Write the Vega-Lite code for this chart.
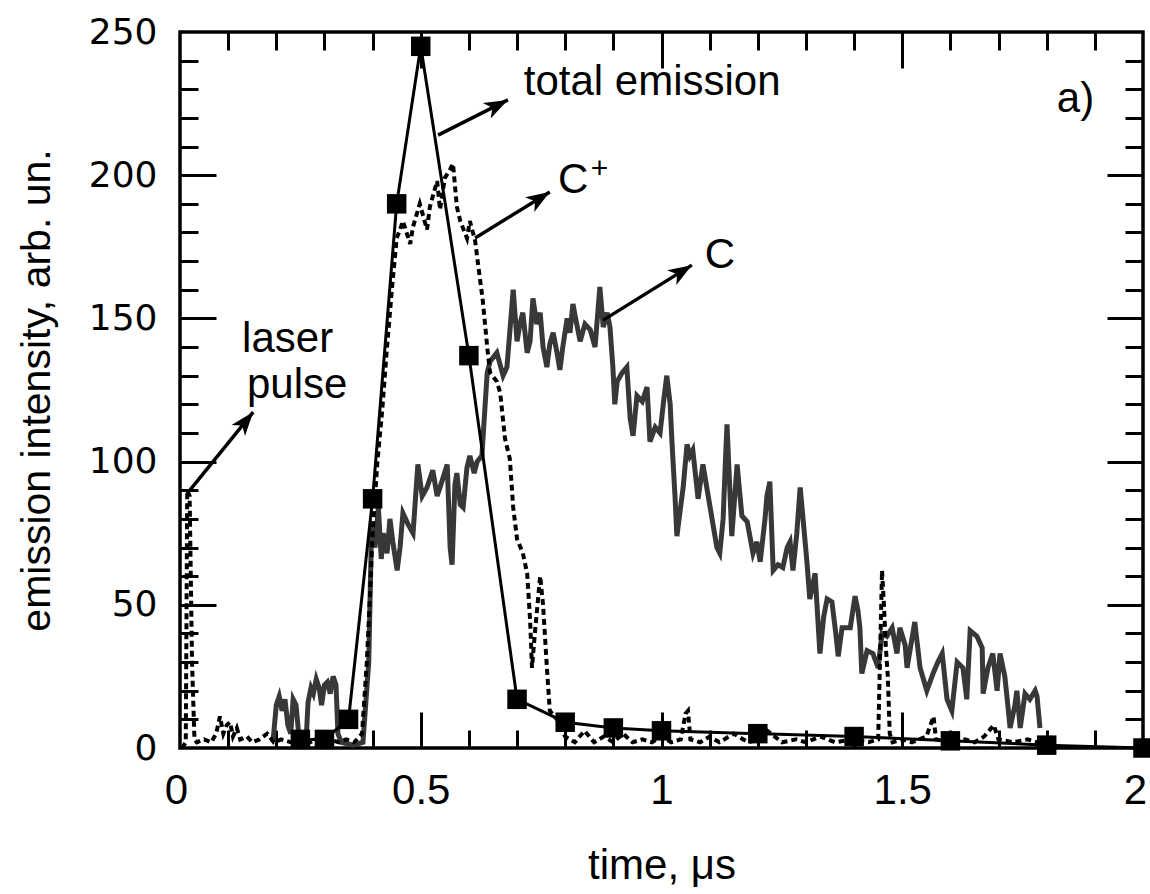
{
  "$schema": "https://vega.github.io/schema/vega-lite/v6.json",
  "width": 963,
  "height": 716,
  "autosize": {"type": "none"},
  "padding": {"left": 180, "top": 32, "right": 7, "bottom": 146},
  "background": "white",
  "config": {
    "view": {"stroke": "black", "strokeWidth": 3.5},
    "axis": {"grid": false, "domain": false, "tickColor": "black", "tickWidth": 3, "labelColor": "black", "titleColor": "black", "labelFlush": false, "labelOverlap": false}
  },
  "datasets": {
    "C": [
      {"t":0.193,"v":2},{"t":0.2,"v":15},{"t":0.206,"v":18},{"t":0.212,"v":13},{"t":0.218,"v":17},{"t":0.224,"v":8},{"t":0.23,"v":5},{"t":0.235,"v":17},{"t":0.241,"v":15},{"t":0.247,"v":4},{"t":0.255,"v":2},{"t":0.262,"v":3},{"t":0.266,"v":16},{"t":0.272,"v":21},{"t":0.277,"v":19},{"t":0.283,"v":24},{"t":0.289,"v":21},{"t":0.294,"v":15},{"t":0.3,"v":22},{"t":0.306,"v":23},{"t":0.312,"v":19},{"t":0.318,"v":25},{"t":0.324,"v":22},{"t":0.328,"v":5},{"t":0.335,"v":2},{"t":0.36,"v":1},{"t":0.38,"v":2},{"t":0.392,"v":30},{"t":0.398,"v":78},{"t":0.405,"v":70},{"t":0.412,"v":84},{"t":0.418,"v":66},
      {"t":0.422,"v":75},{"t":0.43,"v":68},{"t":0.436,"v":80},{"t":0.442,"v":72},{"t":0.451,"v":62},{"t":0.457,"v":70},{"t":0.463,"v":82},{"t":0.474,"v":78},{"t":0.484,"v":75},{"t":0.494,"v":99},{"t":0.503,"v":88},{"t":0.513,"v":91},{"t":0.525,"v":97},{"t":0.534,"v":88},{"t":0.54,"v":91},{"t":0.555,"v":99},{"t":0.561,"v":70},{"t":0.565,"v":64},{"t":0.571,"v":92},{"t":0.575,"v":96},{"t":0.582,"v":85},{"t":0.588,"v":84},{"t":0.596,"v":98},{"t":0.602,"v":102},{"t":0.611,"v":96},{"t":0.617,"v":100},{"t":0.627,"v":102},{"t":0.633,"v":118},{"t":0.638,"v":131},{"t":0.644,"v":135},{"t":0.658,"v":138},{"t":0.671,"v":130},{"t":0.679,"v":133},{"t":0.692,"v":160},{"t":0.7,"v":142},{"t":0.706,"v":148},{"t":0.712,"v":152},{"t":0.721,"v":138},{"t":0.727,"v":142},{"t":0.733,"v":157},{"t":0.741,"v":148},{"t":0.748,"v":152},{"t":0.754,"v":140},{"t":0.762,"v":133},{"t":0.768,"v":141},{"t":0.775,"v":145},{"t":0.783,"v":138},{"t":0.789,"v":132},{"t":0.795,"v":140},{"t":0.804,"v":150},{"t":0.81,"v":145},{"t":0.816,"v":155},{"t":0.824,"v":148},{"t":0.831,"v":142},{"t":0.841,"v":148},{"t":0.852,"v":146},{"t":0.862,"v":140},{"t":0.872,"v":161},{"t":0.879,"v":147},{"t":0.887,"v":152},{"t":0.893,"v":147},{"t":0.899,"v":133},{"t":0.903,"v":120},{"t":0.908,"v":128},{"t":0.918,"v":131},{"t":0.928,"v":133},{"t":0.935,"v":115},{"t":0.941,"v":109},{"t":0.949,"v":123},{"t":0.96,"v":121},{"t":0.97,"v":126},{"t":0.976,"v":107},{"t":0.987,"v":112},{"t":0.997,"v":110},{"t":1.005,"v":122},{"t":1.011,"v":130},{"t":1.018,"v":120},{"t":1.022,"v":106},{"t":1.028,"v":88},{"t":1.032,"v":74},{"t":1.038,"v":82},{"t":1.045,"v":91},{"t":1.053,"v":106},{"t":1.059,"v":102},{"t":1.065,"v":104},{"t":1.076,"v":87},{"t":1.086,"v":99},{"t":1.097,"v":88},{"t":1.107,"v":78},{"t":1.115,"v":70},{"t":1.121,"v":68},{"t":1.128,"v":80},{"t":1.132,"v":97},{"t":1.136,"v":113},{"t":1.142,"v":90},{"t":1.146,"v":74},{"t":1.157,"v":99},{"t":1.167,"v":81},{"t":1.178,"v":79},{"t":1.19,"v":68},{"t":1.198,"v":72},{"t":1.205,"v":65},{"t":1.215,"v":80},{"t":1.219,"v":88},{"t":1.225,"v":93},{"t":1.232,"v":62},{"t":1.242,"v":64},{"t":1.252,"v":63},{"t":1.261,"v":70},{"t":1.267,"v":72},{"t":1.273,"v":62},{"t":1.281,"v":75},{"t":1.288,"v":91},{"t":1.294,"v":80},{"t":1.302,"v":65},{"t":1.308,"v":52},{"t":1.319,"v":61},{"t":1.329,"v":33},{"t":1.337,"v":46},{"t":1.344,"v":52},{"t":1.354,"v":51},{"t":1.362,"v":40},{"t":1.367,"v":32},{"t":1.375,"v":42},{"t":1.392,"v":42},{"t":1.402,"v":53},{"t":1.408,"v":48},{"t":1.412,"v":42},{"t":1.416,"v":26},{"t":1.427,"v":34},{"t":1.439,"v":33},{"t":1.45,"v":28},{"t":1.458,"v":40},{"t":1.468,"v":39},{"t":1.479,"v":42},{"t":1.489,"v":33},{"t":1.495,"v":42},{"t":1.506,"v":36},{"t":1.51,"v":28},{"t":1.52,"v":38},{"t":1.526,"v":44},{"t":1.537,"v":28},{"t":1.551,"v":20},{"t":1.564,"v":26},{"t":1.574,"v":30},{"t":1.583,"v":33},{"t":1.593,"v":17},{"t":1.603,"v":13},{"t":1.614,"v":30},{"t":1.626,"v":28},{"t":1.634,"v":17},{"t":1.641,"v":41},{"t":1.655,"v":39},{"t":1.666,"v":35},{"t":1.668,"v":19},{"t":1.678,"v":28},{"t":1.688,"v":33},{"t":1.697,"v":20},{"t":1.703,"v":33},{"t":1.713,"v":25},{"t":1.718,"v":17},{"t":1.724,"v":7},{"t":1.734,"v":15},{"t":1.738,"v":20},{"t":1.745,"v":7},{"t":1.755,"v":19},{"t":1.765,"v":17},{"t":1.776,"v":20},{"t":1.78,"v":18},{"t":1.786,"v":7}
    ],
    "Cplus": [
      {"t":0.004,"v":0},{"t":0.012,"v":2},{"t":0.015,"v":90},{"t":0.02,"v":88},{"t":0.025,"v":30},{"t":0.03,"v":3},{"t":0.035,"v":2},{"t":0.05,"v":3},{"t":0.065,"v":2},{"t":0.075,"v":5},{"t":0.083,"v":11},{"t":0.09,"v":5},{"t":0.097,"v":8},{"t":0.104,"v":9},{"t":0.11,"v":4},{"t":0.118,"v":7},{"t":0.125,"v":3},{"t":0.139,"v":4},{"t":0.15,"v":2},{"t":0.165,"v":3},{"t":0.181,"v":5},{"t":0.195,"v":2},{"t":0.21,"v":3},{"t":0.23,"v":2},{"t":0.25,"v":3},{"t":0.27,"v":2},{"t":0.29,"v":4},{"t":0.31,"v":3},{"t":0.33,"v":2},{"t":0.345,"v":3},{"t":0.362,"v":2},{"t":0.378,"v":5},{"t":0.388,"v":30},{"t":0.395,"v":55},{"t":0.4,"v":75},{"t":0.41,"v":100},{"t":0.42,"v":118},{"t":0.43,"v":140},{"t":0.44,"v":160},{"t":0.45,"v":178},{"t":0.457,"v":181},{"t":0.463,"v":184},{"t":0.478,"v":176},{"t":0.484,"v":182},{"t":0.498,"v":190},{"t":0.513,"v":181},{"t":0.519,"v":189},{"t":0.534,"v":198},{"t":0.54,"v":188},{"t":0.55,"v":199},{"t":0.561,"v":202},{"t":0.567,"v":204},{"t":0.575,"v":189},{"t":0.582,"v":184},{"t":0.596,"v":178},{"t":0.602,"v":184},{"t":0.613,"v":177},{"t":0.619,"v":169},{"t":0.629,"v":156},{"t":0.638,"v":140},{"t":0.644,"v":131},{"t":0.658,"v":128},{"t":0.665,"v":124},{"t":0.675,"v":108},{"t":0.685,"v":101},{"t":0.692,"v":84},{"t":0.7,"v":73},{"t":0.712,"v":68},{"t":0.721,"v":61},{"t":0.727,"v":45},{"t":0.731,"v":28},{"t":0.737,"v":40},{"t":0.748,"v":60},{"t":0.754,"v":50},{"t":0.762,"v":28},{"t":0.768,"v":13},{"t":0.783,"v":10},{"t":0.8,"v":4},{"t":0.82,"v":2},{"t":0.84,"v":6},{"t":0.86,"v":2},{"t":0.88,"v":4},{"t":0.9,"v":2},{"t":0.92,"v":5},{"t":0.94,"v":2},{"t":0.96,"v":3},{"t":0.98,"v":2},{"t":1.0,"v":4},{"t":1.02,"v":2},{"t":1.04,"v":3},{"t":1.05,"v":12},{"t":1.055,"v":13},{"t":1.06,"v":3},{"t":1.08,"v":2},{"t":1.1,"v":4},{"t":1.12,"v":2},{"t":1.15,"v":5},{"t":1.18,"v":2},{"t":1.2,"v":3},{"t":1.22,"v":6},{"t":1.25,"v":2},{"t":1.28,"v":3},{"t":1.3,"v":2},{"t":1.33,"v":4},{"t":1.36,"v":2},{"t":1.4,"v":3},{"t":1.43,"v":2},{"t":1.45,"v":3},{"t":1.455,"v":40},{"t":1.458,"v":62},{"t":1.462,"v":50},{"t":1.466,"v":35},{"t":1.47,"v":25},{"t":1.474,"v":5},{"t":1.48,"v":2},{"t":1.5,"v":3},{"t":1.52,"v":2},{"t":1.55,"v":4},{"t":1.565,"v":11},{"t":1.57,"v":3},{"t":1.6,"v":2},{"t":1.63,"v":3},{"t":1.65,"v":2},{"t":1.67,"v":4},{"t":1.69,"v":8},{"t":1.7,"v":3},{"t":1.73,"v":2},{"t":1.76,"v":3},{"t":1.78,"v":2}
    ],
    "total": [
      {"t":0.25,"v":3},{"t":0.3,"v":3},{"t":0.35,"v":10},{"t":0.4,"v":87},{"t":0.45,"v":190},{"t":0.5,"v":245},{"t":0.6,"v":137},{"t":0.7,"v":17},{"t":0.8,"v":9},{"t":0.9,"v":7},{"t":1.0,"v":6},{"t":1.2,"v":5},{"t":1.4,"v":4},{"t":1.6,"v":2.5},{"t":1.8,"v":1},{"t":2.0,"v":0}
    ],
    "labels": [
      {"x":0.714,"y":228,"text":"total emission"},
      {"x":0.785,"y":193.8,"text":"C"},
      {"x":1.09,"y":167.6,"text":"C"},
      {"x":1.821,"y":222,"text":"a)"},
      {"x":0.129,"y":138.3,"text":"laser"},
      {"x":0.139,"y":122.2,"text":"pulse"}
    ],
    "plus": [{"x":0.853,"y":202,"text":"+"}],
    "arrows": [
      {"name":"total","x":0.536,"y":214,"x2":0.681,"y2":226.3},
      {"name":"cplus","x":0.613,"y":178.1,"x2":0.768,"y2":194.1},
      {"name":"c","x":0.879,"y":149.4,"x2":1.063,"y2":168.6},
      {"name":"laser","x":0.021,"y":90.1,"x2":0.152,"y2":117.3}
    ]
  },
  "resolve": {"axis": {"x": "independent", "y": "independent"}},
  "layer": [
    {
      "data": {"name": "C"},
      "mark": {"type": "line", "color": "#383838", "strokeWidth": 5, "strokeJoin": "miter"},
      "encoding": {
        "x": {"field": "t", "type": "quantitative", "scale": {"domain": [0, 2], "nice": false, "zero": false},
          "axis": {"orient": "bottom", "values": [0, 0.5, 1, 1.5, 2], "format": "~g", "ticks": false, "labelFont": "Liberation Sans", "labelFontSize": 42, "labelPadding": 22,
            "labelOffset": {"condition": [{"test": "datum.value >= 2", "value": -8}, {"test": "datum.value <= 0", "value": -4}], "value": 0},
            "title": "time, μs", "titleFont": "Liberation Sans", "titleFontSize": 42, "titleFontWeight": "normal", "titlePadding": 34}},
        "y": {"field": "v", "type": "quantitative", "scale": {"domain": [0, 250], "nice": false, "zero": false},
          "axis": {"orient": "left", "values": [0, 50, 100, 150, 200, 250], "ticks": false, "labelFont": "DejaVu Sans", "labelFontSize": 36, "labelPadding": 23, "title": "emission intensity, arb. un.", "titleFont": "Liberation Sans", "titleFontSize": 41, "titleFontWeight": "normal", "titlePadding": 30}}
      }
    },
    {
      "data": {"name": "Cplus"},
      "mark": {"type": "line", "color": "black", "strokeWidth": 4, "strokeDash": [6, 4]},
      "encoding": {
        "x": {"field": "t", "type": "quantitative", "scale": {"domain": [0, 2], "nice": false, "zero": false},
          "axis": {"orient": "bottom", "values": [0.1,0.2,0.3,0.4,0.6,0.7,0.8,0.9,1.1,1.2,1.3,1.4,1.6,1.7,1.8,1.9], "labels": false, "tickSize": -18, "title": null}},
        "y": {"field": "v", "type": "quantitative", "scale": {"domain": [0, 250], "nice": false, "zero": false},
          "axis": {"orient": "left", "values": [10,20,30,40,60,70,80,90,110,120,130,140,160,170,180,190,210,220,230,240], "labels": false, "tickSize": -18, "title": null}}
      }
    },
    {
      "data": {"name": "total"},
      "mark": {"type": "line", "color": "black", "strokeWidth": 3},
      "encoding": {
        "x": {"field": "t", "type": "quantitative", "scale": {"domain": [0, 2], "nice": false, "zero": false},
          "axis": {"orient": "top", "values": [0.1,0.2,0.3,0.4,0.6,0.7,0.8,0.9,1.1,1.2,1.3,1.4,1.6,1.7,1.8,1.9], "labels": false, "tickSize": -18, "title": null}},
        "y": {"field": "v", "type": "quantitative", "scale": {"domain": [0, 250], "nice": false, "zero": false},
          "axis": {"orient": "right", "values": [10,20,30,40,60,70,80,90,110,120,130,140,160,170,180,190,210,220,230,240], "labels": false, "tickSize": -18, "title": null}}
      }
    },
    {
      "data": {"name": "total"},
      "mark": {"type": "point", "shape": "square", "filled": true, "color": "black", "opacity": 1, "size": 380},
      "encoding": {
        "x": {"field": "t", "type": "quantitative", "scale": {"domain": [0, 2], "nice": false, "zero": false},
          "axis": {"orient": "bottom", "values": [0.5, 1, 1.5], "labels": false, "tickSize": -36, "title": null}},
        "y": {"field": "v", "type": "quantitative", "scale": {"domain": [0, 250], "nice": false, "zero": false},
          "axis": {"orient": "left", "values": [50, 100, 150, 200], "labels": false, "tickSize": -36, "title": null}}
      }
    },
    {
      "data": {"name": "arrows"},
      "mark": {"type": "rule", "color": "black", "strokeWidth": 3.5},
      "encoding": {
        "x": {"field": "x", "type": "quantitative", "scale": {"domain": [0, 2], "nice": false, "zero": false}, "axis": null},
        "y": {"field": "y", "type": "quantitative", "scale": {"domain": [0, 250], "nice": false, "zero": false}, "axis": null},
        "x2": {"field": "x2"},
        "y2": {"field": "y2"}
      }
    },
    {
      "data": {"name": "arrows"},
      "transform": [{"filter": "datum.name == 'total'"}],
      "mark": {"type": "point", "shape": "M0,0L0.55,1.5L0,1.1L-0.55,1.5Z", "filled": true, "color": "black", "opacity": 1, "size": 1000, "angle": 63},
      "encoding": {
        "x": {"field": "x2", "type": "quantitative", "scale": {"domain": [0, 2], "nice": false, "zero": false}, "axis": null},
        "y": {"field": "y2", "type": "quantitative", "scale": {"domain": [0, 250], "nice": false, "zero": false}, "axis": null}
      }
    },
    {
      "data": {"name": "arrows"},
      "transform": [{"filter": "datum.name == 'cplus'"}],
      "mark": {"type": "point", "shape": "M0,0L0.55,1.5L0,1.1L-0.55,1.5Z", "filled": true, "color": "black", "opacity": 1, "size": 1000, "angle": 58},
      "encoding": {
        "x": {"field": "x2", "type": "quantitative", "scale": {"domain": [0, 2], "nice": false, "zero": false}, "axis": null},
        "y": {"field": "y2", "type": "quantitative", "scale": {"domain": [0, 250], "nice": false, "zero": false}, "axis": null}
      }
    },
    {
      "data": {"name": "arrows"},
      "transform": [{"filter": "datum.name == 'c'"}],
      "mark": {"type": "point", "shape": "M0,0L0.55,1.5L0,1.1L-0.55,1.5Z", "filled": true, "color": "black", "opacity": 1, "size": 1000, "angle": 58},
      "encoding": {
        "x": {"field": "x2", "type": "quantitative", "scale": {"domain": [0, 2], "nice": false, "zero": false}, "axis": null},
        "y": {"field": "y2", "type": "quantitative", "scale": {"domain": [0, 250], "nice": false, "zero": false}, "axis": null}
      }
    },
    {
      "data": {"name": "arrows"},
      "transform": [{"filter": "datum.name == 'laser'"}],
      "mark": {"type": "point", "shape": "M0,0L0.55,1.5L0,1.1L-0.55,1.5Z", "filled": true, "color": "black", "opacity": 1, "size": 1000, "angle": 39},
      "encoding": {
        "x": {"field": "x2", "type": "quantitative", "scale": {"domain": [0, 2], "nice": false, "zero": false}, "axis": null},
        "y": {"field": "y2", "type": "quantitative", "scale": {"domain": [0, 250], "nice": false, "zero": false}, "axis": null}
      }
    },
    {
      "data": {"name": "labels"},
      "mark": {"type": "text", "font": "Liberation Sans", "fontSize": 42, "align": "left", "baseline": "alphabetic", "color": "black"},
      "encoding": {
        "x": {"field": "x", "type": "quantitative", "scale": {"domain": [0, 2], "nice": false, "zero": false},
          "axis": {"orient": "top", "values": [0.5, 1, 1.5], "labels": false, "tickSize": -36, "title": null}},
        "y": {"field": "y", "type": "quantitative", "scale": {"domain": [0, 250], "nice": false, "zero": false},
          "axis": {"orient": "right", "values": [50, 100, 150, 200], "labels": false, "tickSize": -36, "title": null}},
        "text": {"field": "text"}
      }
    },
    {
      "data": {"name": "plus"},
      "mark": {"type": "text", "font": "Liberation Sans", "fontSize": 30, "align": "left", "baseline": "middle", "color": "black"},
      "encoding": {
        "x": {"field": "x", "type": "quantitative", "scale": {"domain": [0, 2], "nice": false, "zero": false}, "axis": null},
        "y": {"field": "y", "type": "quantitative", "scale": {"domain": [0, 250], "nice": false, "zero": false}, "axis": null},
        "text": {"field": "text"}
      }
    }
  ]
}
